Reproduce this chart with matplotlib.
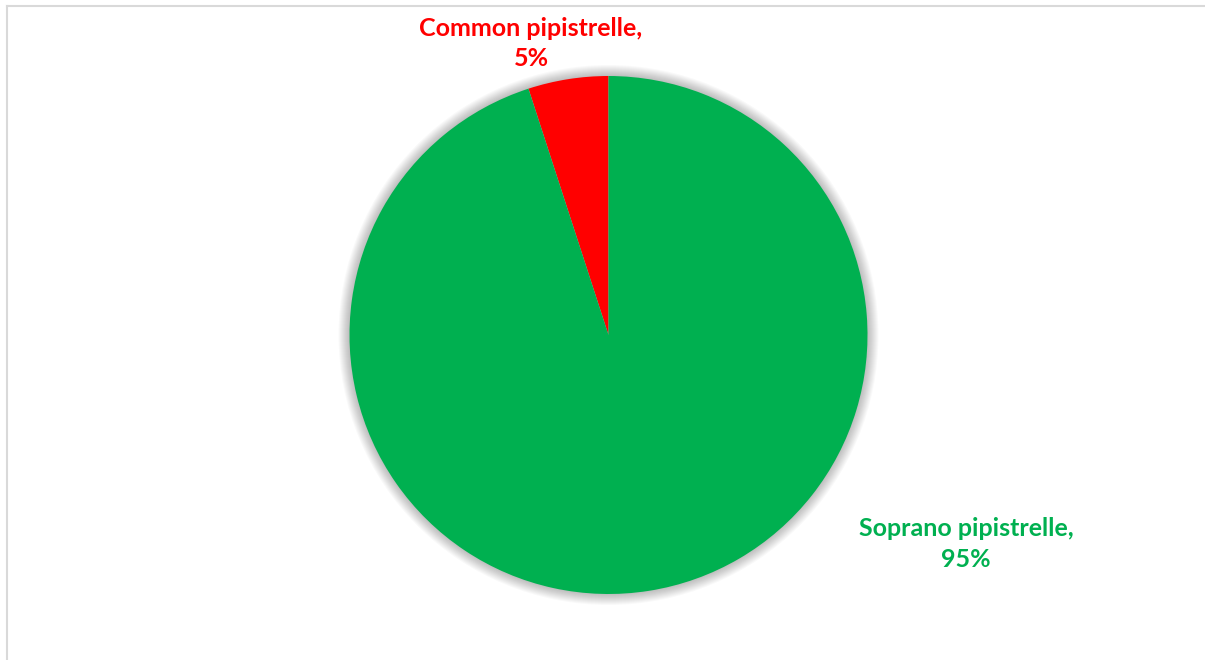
import numpy as np
import matplotlib.pyplot as plt
from matplotlib.patches import Circle
from matplotlib.lines import Line2D

# species share
species = ['Common pipistrelle', 'Soprano pipistrelle']
shares = [5, 95]
colours = ['#FF0000', '#00B050']

W, H = 1205, 660
fig = plt.figure(figsize=(W / 100, H / 100), dpi=100)
ax = fig.add_axes([0, 0, 1, 1])
ax.set_xlim(0, W)
ax.set_ylim(0, H)
ax.set_aspect('equal')
ax.axis('off')

cx, cy, r = 608.5, H - 335, 259

# soft glow behind the pie
for k in range(1, 12):
    ax.add_patch(Circle((cx, cy), r + k, color='black', alpha=0.022, lw=0, zorder=0))

ax.pie(shares, colors=colours, startangle=90, counterclock=True,
       center=(cx, cy), radius=r, frame=True,
       wedgeprops=dict(linewidth=0))
ax.set_xlim(0, W)
ax.set_ylim(0, H)
ax.axis('off')

# data labels
fnt = dict(family=['Lato', 'DejaVu Sans'], fontweight='bold', fontsize=18,
           ha='center', va='center', linespacing=1.4)
ax.text(531, H - 43.5, f'{species[0]},\n{shares[0]}%', color=colours[0], **fnt)
ax.text(966, H - 544, f'{species[1]},\n{shares[1]}%', color=colours[1], **fnt)

# chart area border
fig.add_artist(Line2D([6.5 / W, 6.5 / W], [0, 1 - 5.5 / H], transform=fig.transFigure,
                      color='#d9d9d9', lw=1.5))
fig.add_artist(Line2D([6.5 / W, 1], [1 - 5.5 / H, 1 - 5.5 / H], transform=fig.transFigure,
                      color='#d9d9d9', lw=1.5))

fig.savefig('out.png', dpi=100)
